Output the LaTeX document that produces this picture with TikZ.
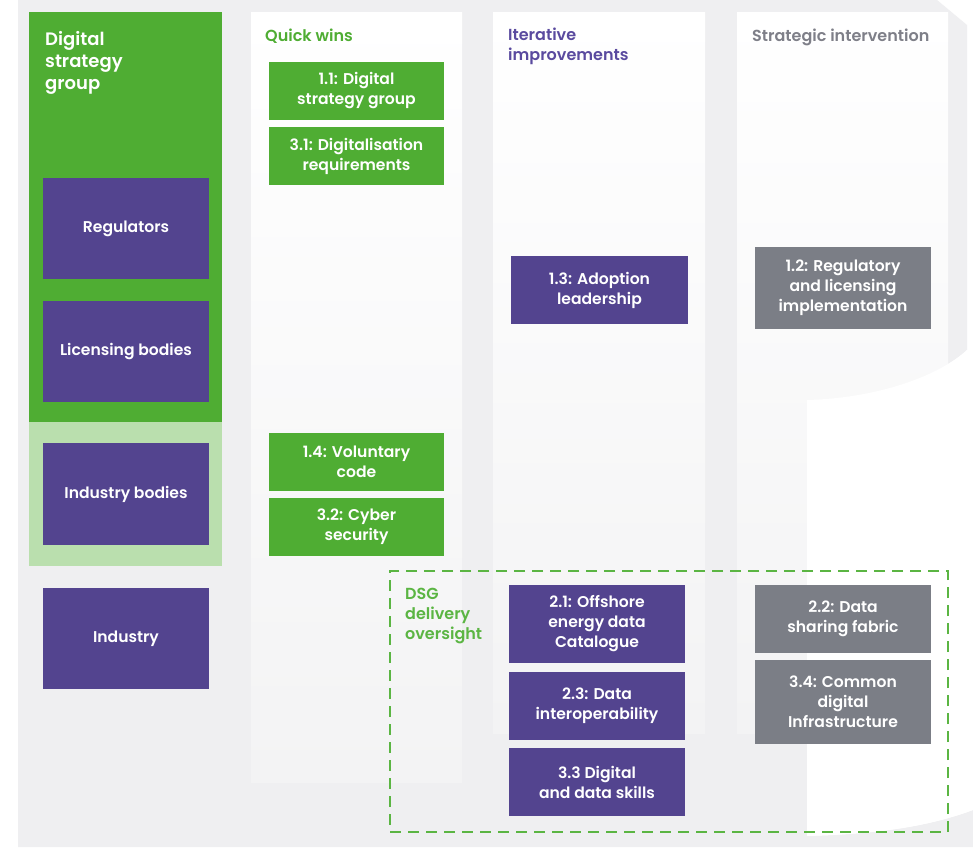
\documentclass[tikz,border=0pt]{standalone}
\usepackage{fontspec}
\setmainfont{Poppins}[BoldFont={* SemiBold}]
\definecolor{bg}{HTML}{EFEFF1}
\definecolor{colbot}{HTML}{F3F3F4}
\definecolor{grn}{HTML}{4FAD33}
\definecolor{lgrn}{HTML}{BADFAE}
\definecolor{purp}{HTML}{53448F}
\definecolor{greybox}{HTML}{7B7E86}
\definecolor{ptitle}{HTML}{5A4A9F}
\definecolor{gtitle}{HTML}{7E7F88}
\definecolor{dsg}{HTML}{5BB543}
\begin{document}
\begin{tikzpicture}[x=1pt,y=-1pt,
  box/.style={draw=none, inner sep=0pt, align=center, text=white,
    font=\bfseries\fontsize{15.6}{20}\selectfont},
  pbox/.style={box, fill=purp},
  gbox/.style={box, fill=grn},
  ybox/.style={box, fill=greybox},
  coltitle/.style={inner sep=0pt, align=left, font=\bfseries\fontsize{16}{20}\selectfont},
  column/.style={top color=white, bottom color=colbot, draw=none}]
\useasboundingbox (0,0) rectangle (973,847);
\fill[white] (0,0) rectangle (973,847);
% background P shape
\fill[bg] (18,0) -- (937,0) -- (967,25) -- (967,350)
  .. controls (940,375) and (880,398) .. (807,400) -- (807,836)
  .. controls (880,834) and (930,826) .. (973,810) -- (973,847) -- (18,847) -- cycle;
% columns
\shade[column] (251,12) rectangle (462,782);
\shade[column] (493,12) rectangle (705,733);
\shade[column] (737,12) rectangle (948,733);
% white hole of the P
\fill[white] (807,400) .. controls (880,398) and (940,375) .. (967,350) -- (973,350)
  -- (973,810) .. controls (930,826) and (880,834) .. (807,836) -- cycle;
% left group blocks
\fill[grn] (29,12) rectangle (222,422);
\fill[lgrn] (29,422) rectangle (222,566);
\node[coltitle, anchor=north west, text=white, font=\bfseries\fontsize{18}{22}\selectfont] (dsgtitle) at (45,31) {Digital\\strategy\\group};
\node[pbox, minimum width=166pt, minimum height=101pt] (reg) at (126,228.5) {Regulators};
\node[pbox, minimum width=166pt, minimum height=101pt] (lic) at (126,351.5) {Licensing bodies};
\node[pbox, minimum width=166pt, minimum height=102pt] (indb) at (126,494) {Industry bodies};
\node[pbox, minimum width=166pt, minimum height=101pt] (ind) at (126,638.5) {Industry};
% column titles
\node[coltitle, anchor=base west, text=grn] (qw) at (265,41) {Quick wins};
\node[coltitle, anchor=north west, text=ptitle] (it) at (508,28) {Iterative\\improvements};
\node[coltitle, anchor=base west, text=gtitle] (si) at (752,41) {Strategic intervention};
% quick wins boxes
\node[gbox, minimum width=175pt, minimum height=58pt] (b11) at (356.5,91) {1.1: Digital\\strategy group};
\node[gbox, minimum width=175pt, minimum height=58pt] (b31) at (356.5,156) {3.1: Digitalisation\\requirements};
\node[gbox, minimum width=175pt, minimum height=58pt] (b14) at (356.5,462) {1.4: Voluntary\\code};
\node[gbox, minimum width=175pt, minimum height=58pt] (b32) at (356.5,527) {3.2: Cyber\\security};
% iterative
\node[pbox, minimum width=177pt, minimum height=68pt] (b13) at (599.5,290) {1.3: Adoption\\leadership};
\node[pbox, minimum width=176pt, minimum height=78pt] (b21) at (597,624) {2.1: Offshore\\energy data\\Catalogue};
\node[pbox, minimum width=176pt, minimum height=68pt] (b23) at (597,706) {2.3: Data\\interoperability};
\node[pbox, minimum width=176pt, minimum height=68pt] (b33) at (597,782) {3.3 Digital\\and data skills};
% strategic
\node[ybox, minimum width=176pt, minimum height=82pt] (b12) at (843,288) {1.2: Regulatory\\and licensing\\implementation};
\node[ybox, minimum width=176pt, minimum height=68pt] (b22) at (843,619) {2.2: Data\\sharing fabric};
\node[ybox, minimum width=176pt, minimum height=84pt] (b34) at (843,702) {3.4: Common\\digital\\Infrastructure};
% DSG delivery oversight
\node[draw=dsg, line width=2pt, dash pattern=on 11pt off 7pt, minimum width=558pt, minimum height=261pt, inner sep=0pt] (dsgbox) at (669,701.5) {};
\node[coltitle, anchor=north west, text=dsg] (dsglabel) at (405,588) {DSG\\delivery\\oversight};
\end{tikzpicture}
\end{document}
